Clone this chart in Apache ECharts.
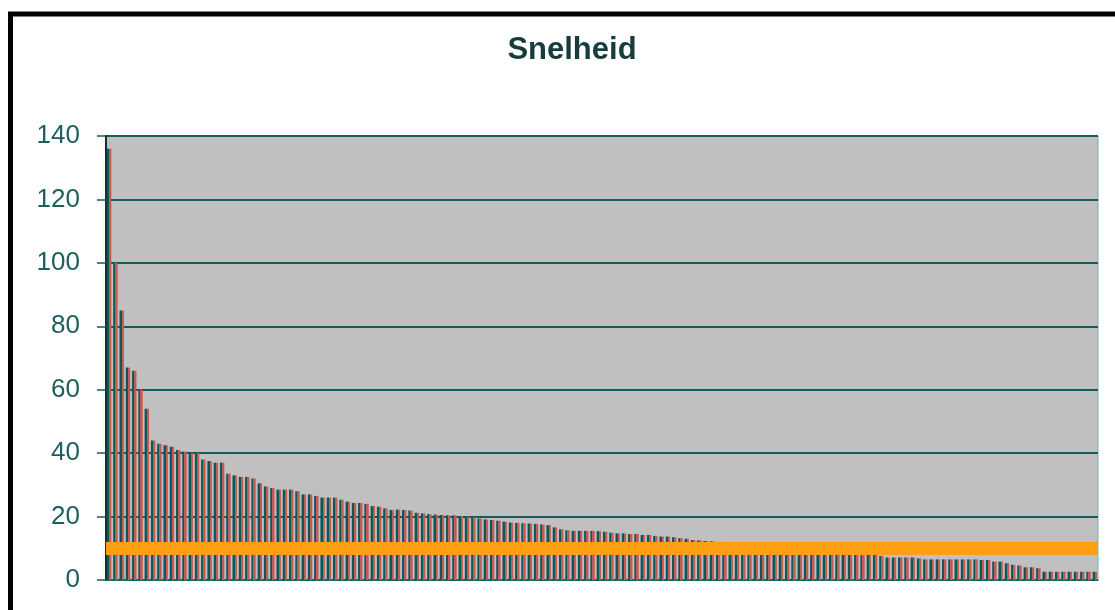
<!DOCTYPE html>
<html>
<head>
<meta charset="utf-8">
<script src="https://cdn.jsdelivr.net/npm/echarts@6/dist/echarts.min.js"></script>
<style>
html,body{margin:0;padding:0;background:#fff;}
#chart{width:1115px;height:610px;}
</style>
</head>
<body>
<div id="chart"></div>
<script>
var titleText = 'Snelheid';
var speedValues = [
  136, 100, 85, 67, 66, 60, 54, 44, 43, 42.5,
  42, 41, 40.5, 40, 40, 38, 37.5, 37, 37, 33.5,
  33, 32.5, 32.5, 32, 30.5, 29.5, 29, 28.5, 28.5, 28.5,
  28, 27, 27, 26.5, 26, 26, 26, 25.3,
  24.7, 24.3, 24.3, 24, 23.3, 23.1, 22.6, 22.1, 22.2, 22.1,
  21.9, 21.2, 21, 20.8, 20.6, 20.5, 20.4, 20.4, 20.2, 20,
  19.8, 19.4, 19.1, 18.9, 18.7, 18.4, 18.1, 18, 17.9, 17.8,
  17.7, 17.5, 17.3, 16.6, 16, 15.7, 15.5, 15.5, 15.5, 15.5,
  15.4, 15.2, 14.9, 14.7, 14.7, 14.5, 14.5, 14.2, 14.2, 13.9,
  13.7, 13.7, 13.5, 13.2, 13.0,
  12.6, 12.5, 12.3, 12.2, 12.0, 12.0, 11.8, 11.6, 11.5, 11.4,
  11.1, 11.0, 10.8, 10.7, 10.5, 10.4, 10.2, 10.0, 9.9, 9.7,
  9.5, 9.4, 9.2, 9.0, 8.8, 8.6,
  8.4, 8.4, 8.4, 8.2, 7.6, 7.1, 7.1, 7.1, 7.1, 7.1,
  6.8, 6.5, 6.5, 6.5, 6.5, 6.5, 6.5, 6.5, 6.5, 6.5,
  6.3, 6.3, 5.8, 5.8, 5.3, 4.8, 4.6, 4.0, 4.0, 3.7,
  2.6, 2.6, 2.6, 2.6, 2.6, 2.6, 2.6, 2.6, 2.6
];
var referenceLevel = 10;
var yTicks = [0, 20, 40, 60, 80, 100, 120, 140];

var categories = speedValues.map(function (v, i) { return String(i + 1); });

var chart = echarts.init(document.getElementById('chart'), null, {renderer: 'canvas'});
var barFill = new echarts.graphic.LinearGradient(0, 0, 1, 0, [
  {offset: 0, color: '#0c5957'},
  {offset: 0.48, color: '#0c5957'},
  {offset: 0.48, color: '#c25a55'},
  {offset: 1, color: '#c25a55'}
]);

chart.setOption({
  animation: false,
  backgroundColor: '#ffffff',
  title: {
    text: titleText,
    left: 567,
    textAlign: 'center',
    top: 30,
    textStyle: {fontFamily: 'Liberation Sans, Arial, sans-serif', fontSize: 31, fontWeight: 'bold', color: '#173c3c'}
  },
  graphic: [{
    type: 'rect',
    shape: {x: 10.5, y: 14, width: 1300, height: 800},
    style: {fill: 'none', stroke: '#000', lineWidth: 5},
    silent: true
  }],
  grid: {left: 106, right: 17, top: 136, bottom: 30, show: true, backgroundColor: '#c0c0c0', borderColor: '#6fb7b5', borderWidth: 1},
  xAxis: {
    type: 'category',
    data: categories,
    boundaryGap: true,
    axisLine: {show: true, lineStyle: {color: '#1a6a68', width: 1.5}},
    axisTick: {show: false},
    axisLabel: {show: false},
    splitLine: {show: false}
  },
  yAxis: {
    type: 'value',
    min: yTicks[0],
    max: yTicks[yTicks.length - 1],
    interval: 20,
    axisLine: {show: true, lineStyle: {color: '#0b3434', width: 2}},
    axisTick: {show: true, length: 9, lineStyle: {color: '#1a5a5a', width: 1.5}},
    axisLabel: {margin: 26, fontFamily: 'Liberation Sans, Arial, sans-serif', fontSize: 26, color: '#1d5f5f'},
    splitLine: {show: true, lineStyle: {color: '#165a5a', width: 2}}
  },
  series: [{
    type: 'bar',
    data: speedValues,
    barWidth: 4.4,
    itemStyle: {color: barFill},
    markLine: {
      silent: true,
      symbol: ['none', 'none'],
      label: {show: false},
      lineStyle: {color: '#ffa012', width: 13, type: 'solid'},
      data: [{yAxis: referenceLevel}]
    }
  }]
});
</script>
</body>
</html>
